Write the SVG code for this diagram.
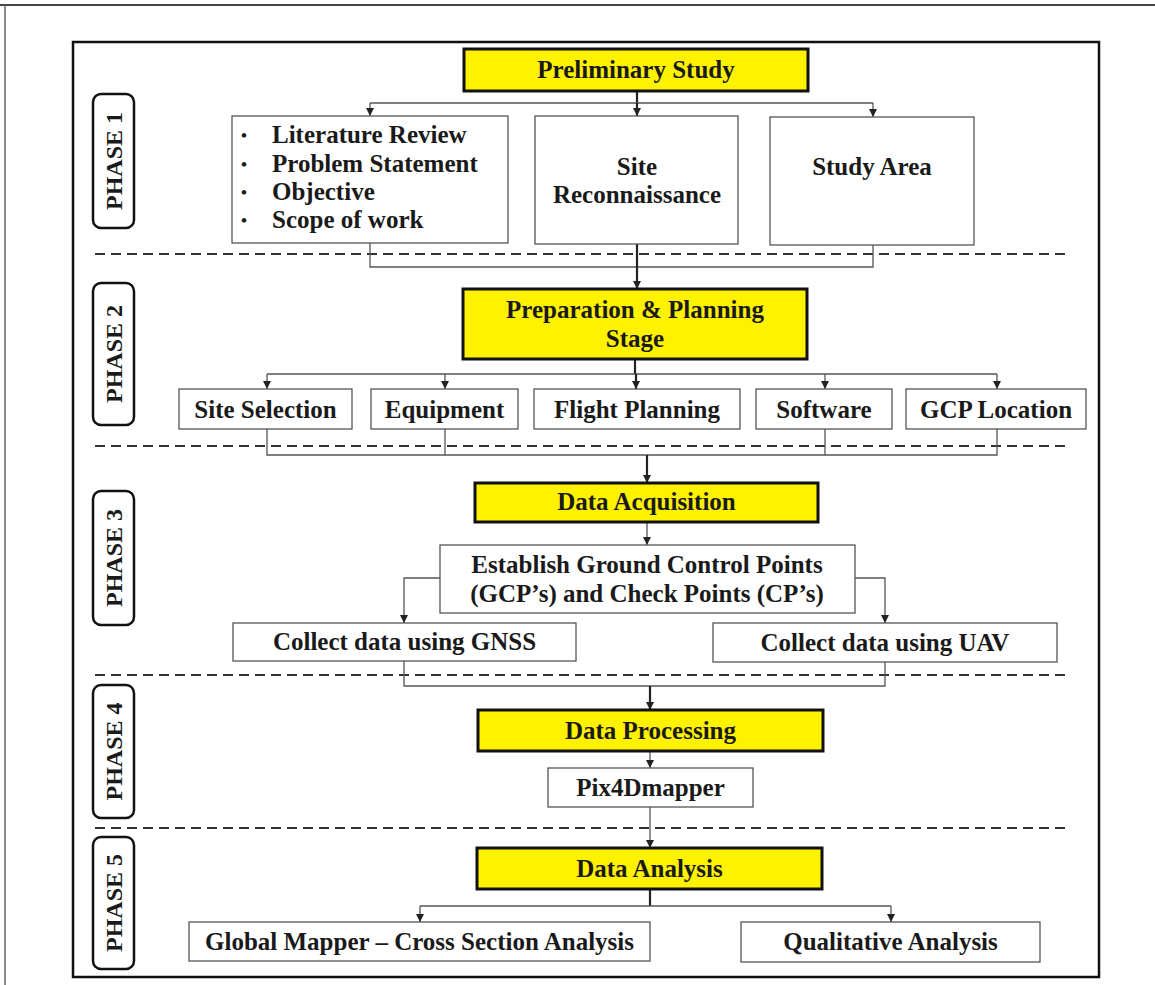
<svg xmlns="http://www.w3.org/2000/svg" width="1155" height="985" viewBox="0 0 1155 985">
<defs>
<marker id="arrd" markerUnits="userSpaceOnUse" markerWidth="8" markerHeight="8" viewBox="0 0 8 8" refX="8" refY="4" orient="auto">
<path d="M0,0 L8,4 L0,8 z" fill="#222"/>
</marker>
</defs>
<style>
text{font-family:"Liberation Serif","Times New Roman",serif;font-weight:bold;font-size:25px;fill:#1a1a1a;}
.c{text-anchor:middle;}
.bul{font-size:17px;}
.box{fill:#fff;stroke:#555;stroke-width:1.3;}
.ybox{fill:#FFF200;stroke:#111;stroke-width:3;}
.ph{fill:#fff;stroke:#111;stroke-width:2.5;}
.phtxt{font-size:24px;text-anchor:middle;}
.ln{fill:none;stroke:#555;stroke-width:1.3;}
.lnb{fill:none;stroke:#222;stroke-width:2.2;}
.dash{fill:none;stroke:#333;stroke-width:2;stroke-dasharray:10 6;}
</style>
<rect width="1155" height="985" fill="#fff"/>
<g id="page">
<line x1="0" y1="5" x2="1155" y2="5" stroke="#444" stroke-width="2"/>
<line x1="5" y1="5" x2="5" y2="985" stroke="#666" stroke-width="1.5"/>
<rect x="73" y="42" width="1026" height="935" fill="none" stroke="#111" stroke-width="2.5"/>
</g>
<g id="separators">
<line class="dash" x1="95" y1="254" x2="1068" y2="254"/>
<line class="dash" x1="95" y1="446" x2="1068" y2="446"/>
<line class="dash" x1="95" y1="675" x2="1068" y2="675"/>
<line class="dash" x1="95" y1="828" x2="1068" y2="828"/>
</g>
<g id="phase-labels">
<g id="phase1"><rect class="ph" x="93" y="94" width="41" height="134" rx="8"/><text class="phtxt" transform="translate(122,161) rotate(-90)">PHASE 1</text></g>
<g id="phase2"><rect class="ph" x="93" y="283" width="41" height="142" rx="8"/><text class="phtxt" transform="translate(122,354) rotate(-90)">PHASE 2</text></g>
<g id="phase3"><rect class="ph" x="93" y="491" width="41" height="134" rx="8"/><text class="phtxt" transform="translate(122,558) rotate(-90)">PHASE 3</text></g>
<g id="phase4"><rect class="ph" x="93" y="685" width="41" height="133" rx="8"/><text class="phtxt" transform="translate(122,751.5) rotate(-90)">PHASE 4</text></g>
<g id="phase5"><rect class="ph" x="93" y="837" width="41" height="132" rx="8"/><text class="phtxt" transform="translate(122,903) rotate(-90)">PHASE 5</text></g>
</g>
<g id="connectors">
<line class="lnb" x1="637" y1="91" x2="637" y2="103"/>
<polyline class="ln" points="370,103 873,103"/>
<line class="ln" x1="370" y1="103" x2="370" y2="116" marker-end="url(#arrd)"/>
<line class="lnb" x1="637" y1="103" x2="637" y2="116" marker-end="url(#arrd)"/>
<line class="ln" x1="873" y1="103" x2="873" y2="117" marker-end="url(#arrd)"/>
<polyline class="ln" points="370,243 370,267 873,267 873,245"/>
<line class="lnb" x1="637" y1="244" x2="637" y2="289" marker-end="url(#arrd)"/>
<line class="lnb" x1="635" y1="359" x2="635" y2="374"/>
<polyline class="ln" points="267,374 997,374"/>
<line class="ln" x1="267" y1="374" x2="267" y2="389" marker-end="url(#arrd)"/>
<line class="ln" x1="445" y1="374" x2="445" y2="389" marker-end="url(#arrd)"/>
<line class="lnb" x1="636" y1="374" x2="636" y2="389" marker-end="url(#arrd)"/>
<line class="ln" x1="825" y1="374" x2="825" y2="389" marker-end="url(#arrd)"/>
<line class="ln" x1="997" y1="374" x2="997" y2="389" marker-end="url(#arrd)"/>
<polyline class="ln" points="267,429 267,455 997,455 997,429"/>
<line class="ln" x1="445" y1="429" x2="445" y2="455"/>
<line class="ln" x1="825" y1="429" x2="825" y2="455"/>
<line class="lnb" x1="647" y1="455" x2="647" y2="483" marker-end="url(#arrd)"/>
<line class="ln" x1="647" y1="522" x2="647" y2="545" marker-end="url(#arrd)"/>
<polyline class="ln" points="440,578 404,578 404,623" marker-end="url(#arrd)"/>
<polyline class="ln" points="855,578 885,578 885,623" marker-end="url(#arrd)"/>
<polyline class="ln" points="404,661 404,686 885,686 885,662"/>
<line class="lnb" x1="650" y1="686" x2="650" y2="710" marker-end="url(#arrd)"/>
<line class="ln" x1="650" y1="751" x2="650" y2="768" marker-end="url(#arrd)"/>
<line class="ln" x1="650" y1="807" x2="650" y2="848" marker-end="url(#arrd)"/>
<line class="lnb" x1="650" y1="889" x2="650" y2="906"/>
<polyline class="ln" points="420,906 891,906"/>
<line class="ln" x1="420" y1="906" x2="420" y2="922" marker-end="url(#arrd)"/>
<line class="ln" x1="891" y1="906" x2="891" y2="922" marker-end="url(#arrd)"/>
</g>
<g id="n-preliminary"><rect class="ybox" x="464" y="49" width="344" height="42"/><text class="c" x="636" y="78">Preliminary Study</text></g>
<g id="n-literature"><rect class="box" x="232" y="116" width="276" height="127"/>
<text class="bul" x="241" y="141">•</text><text x="272" y="143">Literature Review</text>
<text class="bul" x="241" y="170">•</text><text x="272" y="172">Problem Statement</text>
<text class="bul" x="241" y="198">•</text><text x="272" y="200">Objective</text>
<text class="bul" x="241" y="226">•</text><text x="272" y="228">Scope of work</text></g>
<g id="n-site-recon"><rect class="box" x="535" y="116" width="203" height="128"/><text class="c" x="637" y="175">Site</text><text class="c" x="637" y="203">Reconnaissance</text></g>
<g id="n-study-area"><rect class="box" x="770" y="117" width="204" height="128"/><text class="c" x="872" y="175">Study Area</text></g>
<g id="n-preparation"><rect class="ybox" x="463" y="289" width="344" height="70"/><text class="c" x="635" y="318">Preparation &amp; Planning</text><text class="c" x="635" y="347">Stage</text></g>
<g id="n-site-selection"><rect class="box" x="179" y="389" width="173" height="40"/><text class="c" x="265.5" y="418">Site Selection</text></g>
<g id="n-equipment"><rect class="box" x="371" y="389" width="147" height="40"/><text class="c" x="444.5" y="418">Equipment</text></g>
<g id="n-flight"><rect class="box" x="534" y="389" width="206" height="40"/><text class="c" x="637" y="418">Flight Planning</text></g>
<g id="n-software"><rect class="box" x="756" y="389" width="136" height="40"/><text class="c" x="824" y="418">Software</text></g>
<g id="n-gcp"><rect class="box" x="906" y="389" width="180" height="40"/><text class="c" x="996" y="418">GCP Location</text></g>
<g id="n-acquisition"><rect class="ybox" x="475" y="483" width="343" height="39"/><text class="c" x="646.5" y="510">Data Acquisition</text></g>
<g id="n-establish"><rect class="box" x="440" y="545" width="415" height="68"/><text class="c" x="647" y="573">Establish Ground Control Points</text><text class="c" x="647" y="602">(GCP’s) and Check Points (CP’s)</text></g>
<g id="n-gnss"><rect class="box" x="233" y="623" width="343" height="38"/><text class="c" x="404.5" y="650">Collect data using GNSS</text></g>
<g id="n-uav"><rect class="box" x="713" y="623" width="344" height="39"/><text class="c" x="885" y="651">Collect data using UAV</text></g>
<g id="n-processing"><rect class="ybox" x="478" y="710" width="345" height="41"/><text class="c" x="650.5" y="739">Data Processing</text></g>
<g id="n-pix4d"><rect class="box" x="548" y="768" width="205" height="39"/><text class="c" x="650.5" y="796">Pix4Dmapper</text></g>
<g id="n-analysis"><rect class="ybox" x="477" y="848" width="345" height="41"/><text class="c" x="649.5" y="877">Data Analysis</text></g>
<g id="n-global-mapper"><rect class="box" x="189" y="922" width="461" height="39"/><text class="c" x="419.5" y="950">Global Mapper – Cross Section Analysis</text></g>
<g id="n-qualitative"><rect class="box" x="741" y="922" width="299" height="40"/><text class="c" x="890.5" y="950">Qualitative Analysis</text></g>
</svg>
